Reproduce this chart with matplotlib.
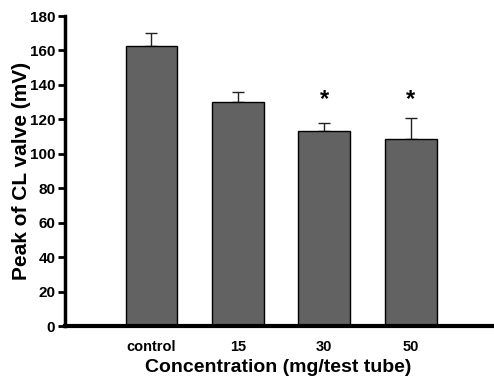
import matplotlib
matplotlib.use("Agg")
import matplotlib.pyplot as plt
import numpy as np

categories = ["control", "15", "30", "50"]
values = [162.5, 130, 113, 108.5]
errors = [7.5, 6, 5, 12]
significant = [False, False, True, True]

plt.rcParams['font.family'] = ['Liberation Sans', 'DejaVu Sans']
plt.rcParams['font.weight'] = 'bold'

fig = plt.figure(figsize=(4.94, 3.78), dpi=100)
ax = fig.add_axes([65/494, 52/378, 427/494, 310/378])

x = np.arange(1, len(categories) + 1)
bars = ax.bar(x, values, width=0.6, color='#626262', edgecolor='black', linewidth=1.0, zorder=2)
ax.errorbar(x, values, yerr=[np.zeros(len(errors)), errors], fmt='none', ecolor='#222222',
            elinewidth=1.0, capsize=4, capthick=1.0, zorder=1)
for xi, v, e, s in zip(x, values, errors, significant):
    if s:
        ax.text(xi, 125, '*', ha='center', va='bottom', fontsize=17, fontweight='bold')

ax.set_xlim(0, 4.94)
ax.set_ylim(0, 180)
ax.set_yticks(np.arange(0, 181, 20))
ax.set_xticks(x)
ax.set_xticklabels(categories, fontsize=10.5, fontweight='bold')
ax.tick_params(axis='y', labelsize=11, width=2, length=5, direction='out', pad=2)
ax.tick_params(axis='x', length=0, pad=10)
for lbl in ax.get_yticklabels():
    lbl.set_fontweight('bold')
ax.spines['top'].set_visible(False)
ax.spines['right'].set_visible(False)
ax.spines['left'].set_linewidth(2.5)
ax.spines['bottom'].set_linewidth(3)
ax.set_ylabel('Peak of CL valve (mV)', fontsize=15, fontweight='bold', labelpad=-1)
ax.set_xlabel('Concentration (mg/test tube)', fontsize=14, fontweight='bold', labelpad=4)

fig.savefig('out.png', dpi=100)
